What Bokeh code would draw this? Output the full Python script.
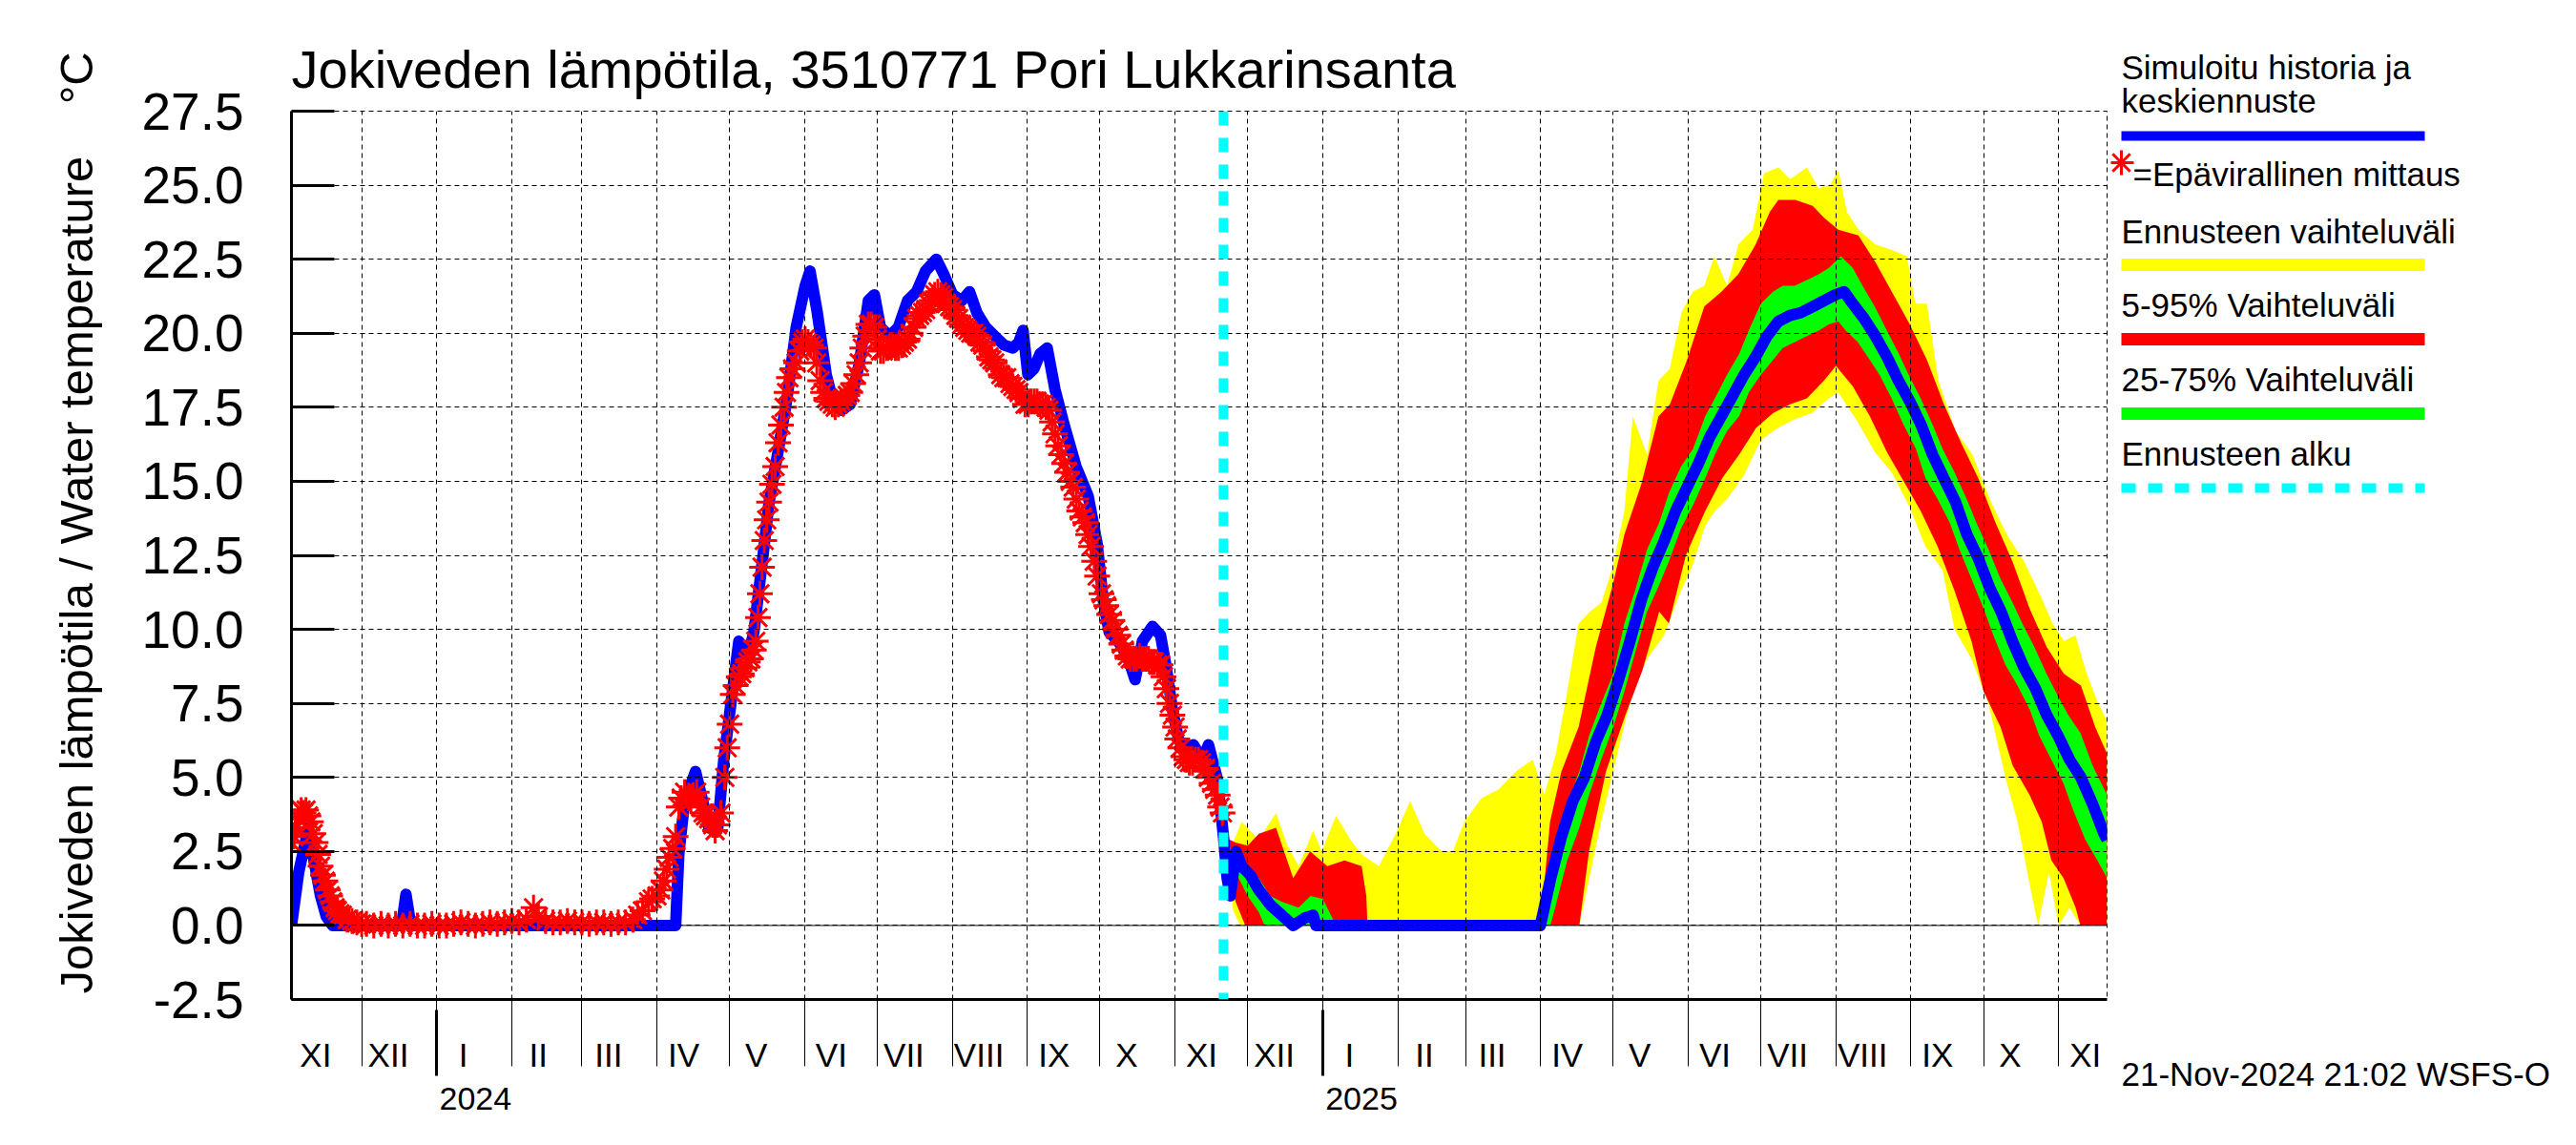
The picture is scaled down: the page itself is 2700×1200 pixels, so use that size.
import pandas as pd
from bokeh.plotting import figure
from bokeh.layouts import row
from bokeh.models import (Range1d, FixedTicker, PrintfTickFormatter, Span, LinearAxis)
from bokeh.core.properties import value
from bokeh.embed import file_html
from bokeh.resources import INLINE

FONT = "Liberation Sans"

# ---------------- texts ----------------
TITLE = "Jokiveden lämpötila, 3510771 Pori Lukkarinsanta"
YLABEL = "Jokiveden lämpötila / Water temperature"
YUNIT = "°C"
FOOTER = "21-Nov-2024 21:02 WSFS-O"
LEGEND_TEXTS = ["Simuloitu historia ja", "keskiennuste", "=Epävirallinen mittaus",
                "Ennusteen vaihteluväli", "5-95% Vaihteluväli", "25-75% Vaihteluväli",
                "Ennusteen alku"]
MONTH_LABELS = ["I", "II", "III", "IV", "V", "VI", "VII", "VIII", "IX", "X", "XI", "XII"]
YEAR_LABELS = ["2024", "2025"]
Y_TICKS = [-2.5, 0.0, 2.5, 5.0, 7.5, 10.0, 12.5, 15.0, 17.5, 20.0, 22.5, 25.0, 27.5]

# ---------------- dates ----------------
START = pd.Timestamp("2023-11-02")
FC_START = pd.Timestamp("2024-11-21")
END = pd.Timestamp("2025-11-21")

# ---------------- data ----------------
# simulated history, days since START
hist_day = [0, 3, 5.7, 7, 9.5, 12, 14.4, 17, 45.5, 47.3,
            49.3, 158.7, 160, 162.4, 166.9, 169.9, 172.4, 176.1, 178.6, 182.3,
            184.8, 188.6, 191, 194.8, 197.3, 201, 204.7, 208.5, 212.2, 214.2,
            217.2, 220.9, 223.4, 227.1, 230.8, 234.6, 238.3, 240.8, 243.3, 247,
            250.7, 254.5, 258.2, 261.9, 266.4, 269.4, 273.1, 276.9, 280.1, 283.1,
            286.8, 290.5, 294.3, 298, 300.5, 302.2, 304.2, 306.7, 309.2, 312.2,
            315.4, 319.2, 324.1, 329.1, 332.8, 335.3, 337.8, 341.5, 345.3, 348.5,
            351.5, 355.7, 359, 361.4, 363.9, 366.4, 368.8, 372.6, 376.3, 378.8,
            382.6, 385]
hist_val = [0, 1.8, 2.8, 3.3, 2.1, 1.0, 0.3, 0, 0, 1.05,
            0, 0, 2.4, 4.2, 5.2, 4.2, 3.3, 3.3, 5.6, 8.0,
            9.6, 9.1, 9.9, 12.5, 14.3, 16.0, 17.8, 20.2, 21.6, 22.1,
            20.7, 18.6, 17.8, 17.4, 17.6, 19.0, 21.1, 21.3, 20.2, 19.9,
            20.2, 21.1, 21.4, 22.1, 22.5, 22.0, 21.3, 21.1, 21.4, 20.7,
            20.2, 19.9, 19.6, 19.5, 19.7, 20.1, 18.6, 18.8, 19.3, 19.5,
            18.1, 16.9, 15.5, 14.5, 12.9, 11.0, 9.9, 9.6, 9.1, 8.3,
            9.6, 10.1, 9.8, 8.7, 7.3, 6.3, 5.9, 6.1, 5.6, 6.1,
            4.9, 3.0]

# unofficial measurements, days since START
obs_day = [0, 1, 2, 3, 4, 5, 6, 7, 8, 9,
           10, 11, 12, 13, 14, 15, 16, 17, 18, 19,
           20, 21, 23, 25, 27, 29, 31, 34, 37, 40,
           43, 46, 49, 52, 55, 58, 61, 64, 67, 70,
           73, 76, 79, 82, 85, 88, 91, 94, 97, 100,
           102, 105, 108, 111, 114, 117, 120, 123, 126, 129,
           132, 135, 138, 141, 143, 145, 147.5, 149, 151, 152.5,
           153.7, 155, 156, 157.5, 158.7, 160, 161, 162.4, 164, 165,
           166, 167.4, 169, 170, 171, 172.4, 174, 175, 176, 177.4,
           179, 180, 181, 182.3, 183.5, 184.8, 186, 187.3, 188.5, 189.8,
           191, 191.8, 192.7, 193.5, 194.4, 195.3, 196.3, 197.3, 198.5, 199.8,
           201, 202.2, 203.5, 204.5, 205.5, 207, 208.5, 210, 211, 212.2,
           213.4, 214.6, 215.9, 217, 218.4, 219.6, 220.9, 222, 223.4, 224.6,
           225.9, 227, 228.4, 229.6, 230.8, 232, 233.3, 234.5, 235.8, 237,
           238.3, 239.5, 240.8, 242, 243.3, 244.5, 245.8, 247, 248.3, 249.5,
           250.7, 252, 253.2, 254.5, 255.7, 257, 258.2, 259.5, 260.7, 262,
           263.2, 264.5, 265.7, 267, 268.2, 269.4, 270.6, 271.9, 273.1, 274.4,
           275.6, 276.9, 278.1, 279.4, 280.6, 281.9, 283.1, 284.4, 285.6, 286.9,
           288.1, 289.3, 290.5, 291.8, 293, 294.3, 295.5, 296.8, 298, 299.3,
           300.5, 301.8, 303, 304.3, 305.5, 306.8, 308, 309.2, 310.4, 311.7,
           312.9, 314.2, 315.4, 316.7, 317.9, 319.2, 320.4, 321.7, 322.9, 324.2,
           325.4, 326.7, 327.9, 329.1, 330.3, 331.6, 332.8, 334.6, 335.6, 336.6,
           337.8, 339.1, 340.3, 341.5, 342.8, 344, 345.3, 346.5, 347.8, 349,
           350.3, 351.5, 352.8, 354, 355.3, 356.5, 357.8, 359, 360.2, 361.4,
           362.7, 363.9, 365, 365.9, 367.2, 368.4, 369.7, 370.9, 372.2, 373.4,
           374.7, 375.9, 377.6, 378.8, 380.1, 381.4, 382.6, 383.6, 384.6]
obs_val = [2.8, 3.0, 3.3, 3.6, 3.9, 3.8, 3.9, 3.7, 3.5, 3.1,
           2.8, 2.4, 2.0, 1.7, 1.5, 1.2, 1.0, 0.8, 0.6, 0.5,
           0.4, 0.35, 0.2, 0.15, 0.1, 0.05, 0.05, 0.0, 0.05, 0.0,
           0.05, 0.0, 0.05, 0.0, 0.0, 0.05, 0.0, 0.0, 0.05, 0.1,
           0.05, 0.0, 0.05, 0.1, 0.05, 0.1, 0.15, 0.1, 0.2, 0.6,
           0.3, 0.15, 0.1, 0.1, 0.15, 0.1, 0.1, 0.05, 0.1, 0.1,
           0.05, 0.1, 0.1, 0.2, 0.35, 0.5, 0.8, 0.9, 1.0, 1.2,
           1.5, 1.9, 2.3, 2.6, 3.0, 4.0, 4.3, 4.5, 4.3, 4.2,
           4.4, 4.5, 4.0, 3.8, 3.7, 3.6, 3.4, 3.2, 3.4, 3.8,
           5.0, 6.0, 6.8, 7.8, 8.1, 8.4, 8.5, 8.7, 8.9, 9.0,
           9.3, 9.6, 10.4, 11.2, 12.1, 13.0, 13.7, 14.3, 14.9, 15.5,
           16.3, 16.9, 17.5, 18.0, 18.5, 18.8, 19.0, 19.4, 19.7, 19.8,
           19.7, 19.6, 19.5, 19.0, 18.4, 18.0, 17.8, 17.7, 17.6, 17.5,
           17.6, 17.7, 17.8, 17.9, 18.0, 18.3, 18.6, 19.0, 19.5, 19.9,
           20.3, 20.3, 20.2, 19.8, 19.4, 19.4, 19.5, 19.6, 19.6, 19.5,
           19.5, 19.6, 19.7, 19.8, 20.0, 20.2, 20.5, 20.6, 20.7, 20.8,
           21.0, 21.1, 21.3, 21.4, 21.3, 21.2, 21.0, 20.9, 20.8, 20.6,
           20.5, 20.3, 20.2, 20.1, 20.0, 20.0, 19.9, 19.7, 19.6, 19.4,
           19.2, 19.1, 19.0, 18.8, 18.6, 18.5, 18.5, 18.3, 18.2, 18.1,
           18.0, 17.8, 17.6, 17.6, 17.7, 17.7, 17.7, 17.6, 17.6, 17.5,
           17.4, 17.0, 16.6, 16.2, 15.9, 15.6, 15.3, 15.0, 14.8, 14.4,
           14.0, 13.8, 13.6, 13.2, 12.8, 12.3, 11.8, 11.2, 11.0, 10.8,
           10.5, 10.3, 10.0, 9.8, 9.5, 9.3, 9.1, 9.0, 9.0, 9.0,
           9.1, 9.0, 9.0, 9.0, 8.9, 8.9, 8.8, 8.8, 8.4, 8.0,
           7.5, 7.1, 6.7, 6.3, 6.0, 5.7, 5.6, 5.5, 5.5, 5.6,
           5.6, 5.5, 5.3, 5.0, 4.8, 4.6, 4.4, 4.0, 3.8]

# forecast, days since FC_START
mean_day = [0, 1.5, 2.8, 5.2, 7.5, 11.1, 14.6, 19.3, 24, 28.8,
            33.5, 37, 38.2, 130.9, 134.9, 139.6, 144.3, 149.1, 153.8, 158.5,
            163.2, 167.9, 172.6, 177.4, 182.1, 186.8, 191.5, 196.2, 200.9, 205.7,
            210.4, 215.1, 219.8, 224.5, 229.2, 234, 238.7, 243.4, 248.1, 252.8,
            256.4, 259.9, 264.6, 269.3, 274.1, 278.8, 283.5, 288.2, 292.9, 297.6,
            302.4, 307.1, 311.8, 316.5, 321.2, 325.9, 330.7, 335.4, 340.1, 344.8,
            349.5, 354.2, 359, 363.7, 365]
mean_val = [3.0, 1.6, 1.0, 2.5, 2.0, 1.7, 1.2, 0.7, 0.35, 0,
            0.25, 0.35, 0, 0, 1.5, 3.0, 4.2, 5.0, 6.2, 7.1,
            8.3, 9.6, 11.0, 12.1, 13.0, 14.0, 14.8, 15.6, 16.5, 17.2,
            17.9, 18.6, 19.2, 19.9, 20.4, 20.6, 20.7, 20.9, 21.1, 21.3,
            21.4, 21.0, 20.5, 19.9, 19.2, 18.4, 17.7, 16.9, 15.9, 15.1,
            14.3, 13.2, 12.4, 11.4, 10.6, 9.6, 8.7, 8.0, 7.1, 6.4,
            5.6, 5.0, 4.1, 3.1, 2.9]

max_day = [0, 3, 7.5, 14.6, 21.7, 26.4, 31.1, 37, 40.6, 46.5,
           52.4, 57.1, 64.2, 71.2, 77.1, 83, 90.1, 94.8, 99.5, 106.6,
           113.7, 120.8, 127.8, 132.5, 137.3, 142, 146.7, 151.4, 156.1, 160.8,
           165.6, 169.1, 175, 179.7, 184.4, 189.2, 193.9, 198.6, 202.8, 208,
           212.7, 218.6, 223.3, 229.2, 234, 241, 245.8, 250.5, 254, 257.5,
           262.3, 269.3, 276.4, 282.3, 285.8, 290.6, 295.3, 302.4, 309.4, 316.5,
           323.6, 330.7, 337.7, 342.5, 347.2, 351.9, 356.6, 361.3, 365]
max_val = [3.0, 2.6, 3.5, 2.9, 3.8, 2.7, 2.0, 3.2, 2.5, 3.7,
           2.9, 2.4, 2.0, 3.1, 4.2, 3.1, 2.5, 2.5, 3.5, 4.3,
           4.6, 5.2, 5.6, 4.4, 5.8, 7.9, 10.2, 10.6, 10.9, 12.1,
           14.0, 17.2, 15.9, 18.4, 18.8, 20.7, 21.4, 21.6, 22.6, 21.6,
           23.0, 23.5, 25.4, 25.6, 25.2, 25.6, 24.9, 25.0, 25.5, 24.1,
           23.5, 23.0, 22.8, 22.6, 21.0, 21.0, 18.4, 16.7, 15.9, 14.4,
           13.2, 12.3, 11.1, 10.2, 9.6, 9.8, 8.5, 7.5, 6.9]

min_day = [0, 4, 7, 147, 156, 161, 166, 170, 175, 182,
           189, 194, 199, 203, 208, 215, 222, 229, 236, 243,
           250, 254, 258, 262, 269, 276, 283, 290, 297, 302,
           309, 316, 323, 328, 333, 336.5, 341, 345, 349.5, 354,
           365]
min_val = [3.0, 0.5, 0, 0, 3.5, 5.2, 6.9, 8.1, 9.0, 9.8,
           11.3, 12.2, 13.5, 14.0, 14.4, 15.2, 16.4, 16.8, 17.1, 17.3,
           17.8, 18.0, 17.5, 17.0, 16.0, 15.3, 14.2, 12.8, 12.0, 10.0,
           9.0, 7.5, 5.0, 3.5, 1.4, 0, 1.8, 0, 0.6, 0,
           0]

p95_day = [0, 5, 10, 14.6, 21.7, 28.8, 35.8, 42.9, 50, 57.1,
           59, 59.5, 130.9, 134.9, 139.6, 146.7, 153.8, 160.8, 165.6, 172.6,
           179.7, 184.4, 191.5, 198.6, 205.7, 212.7, 219.8, 225.7, 229.2, 236.3,
           243.4, 248.1, 254, 262.3, 269.3, 278.8, 283.5, 290.6, 297.6, 304.7,
           311.8, 318.9, 325.9, 333, 340.1, 347.2, 354.2, 360.1, 365]
p95_val = [3.0, 2.8, 2.7, 3.1, 3.3, 1.6, 2.5, 2.0, 2.2, 2.0,
           1.0, 0, 0, 3.5, 5.2, 6.7, 9.4, 11.5, 13.2, 14.9,
           17.2, 17.6, 19.1, 20.9, 21.4, 22.0, 23.0, 24.1, 24.5, 24.5,
           24.3, 23.9, 23.5, 23.3, 22.4, 21.0, 20.3, 19.1, 17.6, 16.3,
           15.1, 13.6, 12.3, 10.7, 9.4, 8.5, 8.1, 6.7, 5.8]

p5_day = [0, 5, 9, 147, 151, 158, 166, 173, 180, 184,
          191, 199, 206, 213, 220, 227, 234, 241, 248, 253,
          260, 267, 274, 281, 288, 295, 302, 309, 314, 321,
          326, 333, 338, 342, 347, 352, 354, 365]
p5_val = [3.0, 0.8, 0, 0, 2.5, 5.2, 7.1, 8.6, 10.6, 10.2,
          12.5, 14.0, 15.1, 15.9, 16.8, 17.3, 17.6, 17.8, 18.4, 18.9,
          18.2, 17.2, 16.0, 15.0, 14.0, 12.8, 11.3, 9.6, 7.9, 6.7,
          5.4, 4.4, 3.5, 2.2, 1.6, 0.6, 0, 0]

p75_day = [0, 5.2, 10, 14.6, 19.3, 24, 31, 36, 41, 45,
           46, 131, 132.5, 137, 142, 147, 151, 156, 161, 165.6,
           170, 175, 180, 184, 189, 194, 199, 203, 208, 213,
           217, 222, 227, 231, 236, 241, 246, 250, 255, 260,
           264, 269, 274, 279, 283, 288, 293, 297, 302, 307,
           311, 316, 321, 326, 330, 335, 340, 345, 349, 354,
           359, 365]
p75_val = [3.0, 2.3, 2.0, 1.6, 1.0, 0.8, 0.6, 1.0, 0.9, 0.25,
           0, 0, 1.0, 2.5, 4.1, 5.2, 6.4, 7.5, 8.5, 10.2,
           11.3, 12.7, 13.6, 14.6, 15.5, 16.1, 17.2, 17.8, 18.6, 19.3,
           20.1, 21.0, 21.4, 21.6, 21.6, 21.8, 22.0, 22.2, 22.6, 22.2,
           21.6, 20.9, 20.1, 19.3, 18.6, 17.8, 16.9, 16.1, 15.3, 14.4,
           13.6, 12.7, 11.7, 10.9, 10.2, 9.4, 8.5, 7.7, 7.1, 6.5,
           5.4, 4.4]

p25_day = [0, 5, 10, 14.6, 17, 135, 137, 142, 147, 151,
           156, 161, 165.6, 170, 175, 180, 184, 189, 194, 199,
           203, 208, 213, 217, 222, 227, 231, 236, 241, 246,
           250, 254, 257, 262, 267, 271, 276, 281, 286, 290,
           295, 300, 304, 309, 314, 318, 323, 328, 333, 337,
           342, 347, 351, 356, 361, 365]
p25_val = [3.0, 1.8, 1.0, 0.45, 0, 0, 0.6, 2.2, 3.3, 4.4,
           5.6, 6.7, 7.9, 9.2, 10.6, 11.5, 12.3, 13.4, 14.2, 15.1,
           15.9, 16.7, 17.2, 18.0, 18.6, 19.1, 19.5, 19.7, 19.9, 20.1,
           20.3, 20.4, 20.1, 19.7, 19.1, 18.6, 17.8, 16.9, 16.1, 15.1,
           14.4, 13.6, 12.7, 11.7, 10.7, 9.8, 8.8, 8.1, 7.3, 6.4,
           5.6, 4.8, 3.9, 2.9, 2.2, 1.6]

# ---------------- colours ----------------
C_BLUE = "#0000FF"
C_RED = "#FF0000"
C_YELLOW = "#FFFF00"
C_GREEN = "#00FF00"
C_CYAN = "#00FFFF"

# ---------------- geometry (page pixels) ----------------
H = 1200
W1 = 2212                  # main chart width
W2 = 2700 - W1             # legend panel width
FL, FR, FT, FB = 305, 2208, 116, 1047


def day(ts):
    return (pd.Timestamp(ts) - START).days


X_END = day(END)
FC_OFF = day(FC_START)
Y0, Y1 = -2.5, 27.5

p = figure(width=W1, height=H, x_range=Range1d(0, X_END), y_range=Range1d(Y0, Y1),
           output_backend="svg", toolbar_location=None,
           min_border_left=FL, min_border_right=W1 - FR,
           min_border_top=FT, min_border_bottom=H - FB,
           background_fill_color="white", border_fill_color="white")
p.frame_align = False
p.outline_line_color = "black"
p.outline_line_width = 1
p.outline_line_dash = "5 4"

# title
p.title.text = TITLE
p.title.text_font = FONT
p.title.text_font_size = "56px"
p.title.text_font_style = "normal"
p.title.text_color = "black"
p.title.align = "left"
p.title.standoff = 25
p.title.offset = 0

# month ticks / labels
month_starts = pd.date_range("2023-11-01", "2025-11-01", freq="MS")
bounds = [day(m) for m in month_starts if day(m) > 0]
label_pos = [day(m) + 11 for m in month_starts]
overrides = {day(m) + 11: MONTH_LABELS[m.month - 1] for m in month_starts}

xa = p.xaxis[0]
xa.ticker = FixedTicker(ticks=label_pos, minor_ticks=bounds)
xa.major_label_overrides = overrides
xa.major_tick_line_color = None
xa.major_tick_out = 0
xa.major_tick_in = 0
xa.minor_tick_out = 70
xa.minor_tick_in = 0
xa.minor_tick_line_color = "black"
xa.minor_tick_line_width = 1
xa.axis_line_color = "black"
xa.axis_line_width = 3
xa.major_label_text_font = FONT
xa.major_label_text_font_size = "35px"
xa.major_label_text_color = "black"
xa.major_label_standoff = -32

# year labels + thick January ticks
jan_days = [day(f"{y}-01-01") for y in YEAR_LABELS]
year_pos = [d + 16 for d in jan_days]
xa2 = LinearAxis(ticker=FixedTicker(ticks=year_pos, minor_ticks=jan_days),
                 major_label_overrides={pos: y for pos, y in zip(year_pos, YEAR_LABELS)},
                 axis_line_color=None, major_tick_line_color=None,
                 major_tick_in=0, major_tick_out=0,
                 minor_tick_in=69, minor_tick_out=0,
                 minor_tick_line_color="black", minor_tick_line_width=3,
                 major_label_text_font=FONT, major_label_text_font_size="34px",
                 major_label_text_color="black", major_label_standoff=12)
p.add_layout(xa2, "below")

ya = p.yaxis[0]
ya.ticker = FixedTicker(ticks=Y_TICKS)
ya.formatter = PrintfTickFormatter(format="%.1f")
ya.major_tick_in = 45
ya.major_tick_out = 0
ya.major_tick_line_width = 3
ya.major_tick_line_color = "black"
ya.minor_tick_line_color = None
ya.axis_line_color = "black"
ya.axis_line_width = 3
ya.major_label_text_font = FONT
ya.major_label_text_font_size = "55px"
ya.major_label_text_color = "black"
ya.major_label_standoff = 50
ya.axis_label = "\u00a0" * 5 + YLABEL + "\u00a0" * 4 + YUNIT
ya.axis_label_text_font = FONT
ya.axis_label_text_font_size = "49px"
ya.axis_label_text_font_style = "normal"
ya.axis_label_text_color = "black"
ya.axis_label_standoff = 38

p.xgrid.ticker = FixedTicker(ticks=bounds)
for g in (p.xgrid[0], p.ygrid[0]):
    g.grid_line_color = "black"
    g.grid_line_dash = "5 4"
    g.grid_line_width = 1
    g.level = "glyph"


def band(up_d, up_v, lo_d, lo_v):
    xs = [FC_OFF + d for d in up_d] + [FC_OFF + d for d in reversed(lo_d)]
    ys = list(up_v) + list(reversed(lo_v))
    return xs, ys


for (ud, uv, ld, lv, col) in [(max_day, max_val, min_day, min_val, C_YELLOW),
                              (p95_day, p95_val, p5_day, p5_val, C_RED),
                              (p75_day, p75_val, p25_day, p25_val, C_GREEN)]:
    bx, by = band(ud, uv, ld, lv)
    p.patch(bx, by, fill_color=col, line_color=None, level="underlay")

p.add_layout(Span(location=0, dimension="width", line_color="black", line_width=1,
                  level="underlay"))

p.line(hist_day, hist_val, line_color=C_BLUE, line_width=12, line_join="round")
p.line([FC_OFF + d for d in mean_day], mean_val, line_color=C_BLUE, line_width=12,
       line_join="round")
p.scatter(obs_day, obs_val, marker="asterisk", size=27, line_color=C_RED, line_width=3)

p.add_layout(Span(location=FC_OFF, dimension="height", line_color=C_CYAN, line_width=10,
                  line_dash="15 13"))

# ---------------- legend panel (page-pixel coordinates) ----------------
lg = figure(width=W2, height=H, x_range=Range1d(W1, 2700), y_range=Range1d(H, 0),
            output_backend="svg", toolbar_location=None,
            x_axis_location=None, y_axis_location=None,
            min_border=0, min_border_left=0, min_border_right=0,
            min_border_top=0, min_border_bottom=0,
            background_fill_color="white", border_fill_color="white")
lg.frame_align = False
lg.outline_line_color = None
lg.grid.visible = False

LX0, LX1 = 2223, 2541
text_x = [LX0, LX0, 2235, LX0, LX0, LX0, LX0, LX0]
text_y = [70, 105, 182, 242, 319, 397, 475, 1125]
lg.text(x=text_x, y=text_y, text=LEGEND_TEXTS + [FOOTER],
        text_font=value(FONT), text_font_size="35px", text_color="black",
        text_baseline="alphabetic", text_align="left")

seg_y = [142, 277, 355, 433]
seg_c = [C_BLUE, C_YELLOW, C_RED, C_GREEN]
seg_w = [10, 13, 13, 13]
lg.segment(x0=[LX0] * 4, y0=seg_y, x1=[LX1] * 4, y1=seg_y, line_color=seg_c, line_width=seg_w)
lg.segment(x0=[LX0], y0=[511], x1=[LX1], y1=[511], line_color=C_CYAN, line_width=10,
           line_dash="15 13")
lg.scatter(x=[LX0], y=[170], marker="asterisk", size=26, line_color=C_RED, line_width=3)

layout = row(p, lg)
open("out.html", "w").write(file_html(layout, INLINE))
